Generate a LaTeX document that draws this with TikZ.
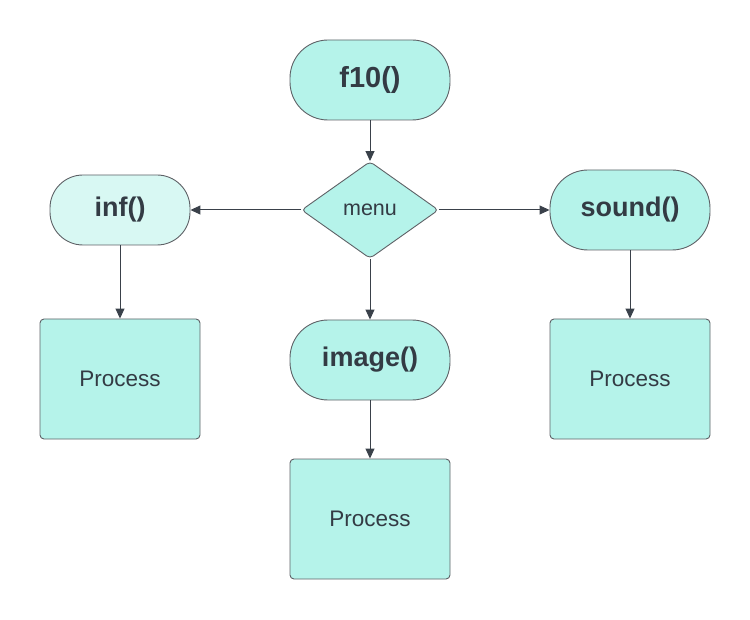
\documentclass[tikz,border=0pt]{standalone}
\usepackage{fontspec}
\setmainfont{Liberation Sans}
\usetikzlibrary{shapes.geometric,arrows.meta}
\definecolor{tfill}{HTML}{B5F3EA}
\definecolor{tlight}{HTML}{D8F8F3}
\definecolor{tstroke}{HTML}{5E6166}
\definecolor{ttext}{HTML}{333B44}
\definecolor{tarrow}{HTML}{3A414A}
\tikzset{
  term/.style={draw=tstroke, line width=0.9pt, fill=tfill, rounded corners=38pt, minimum width=160pt, minimum height=80pt, inner sep=0pt, text=ttext, font=\fontsize{27}{32}\selectfont\bfseries},
  procbox/.style={draw=tstroke, line width=0.9pt, fill=tfill, rounded corners=4pt, minimum width=160pt, minimum height=120pt, inner sep=0pt, text=ttext, font=\fontsize{22.5}{27}\selectfont},
  decision/.style={draw=tstroke, line width=0.9pt, fill=tfill, diamond, rounded corners=4pt, minimum width=137pt, minimum height=97pt, inner sep=0pt, text=ttext, font=\fontsize{21.5}{26}\selectfont},
  flow/.style={draw=tarrow, line width=1pt, -{Triangle[length=10pt, width=9pt]}}
}
\begin{document}
\begin{tikzpicture}[x=1pt, y=-1pt]
\useasboundingbox (0,0) rectangle (750,620);
\node[term, font=\fontsize{29}{34}\selectfont\bfseries] (f10) at (370,80) {f10()};
\node[decision] (menu) at (370,210) {menu};
\node[term, fill=tlight, minimum width=140pt, minimum height=70pt, rounded corners=33pt] (inf) at (120,210) {inf()};
\node[term] (sound) at (630,210) {sound()};
\node[term] (image) at (370,360) {image()};
\node[procbox] (p1) at (120,379) {Process};
\node[procbox] (p2) at (630,379) {Process};
\node[procbox] (p3) at (370,519) {Process};
\draw[flow] (f10.south) -- (menu.north);
\draw[flow] (menu.west) -- (inf.east);
\draw[flow] (menu.east) -- (sound.west);
\draw[flow] (menu.south) -- (image.north);
\draw[flow] (inf.south) -- (p1.north);
\draw[flow] (sound.south) -- (p2.north);
\draw[flow] (image.south) -- (p3.north);
\end{tikzpicture}
\end{document}
